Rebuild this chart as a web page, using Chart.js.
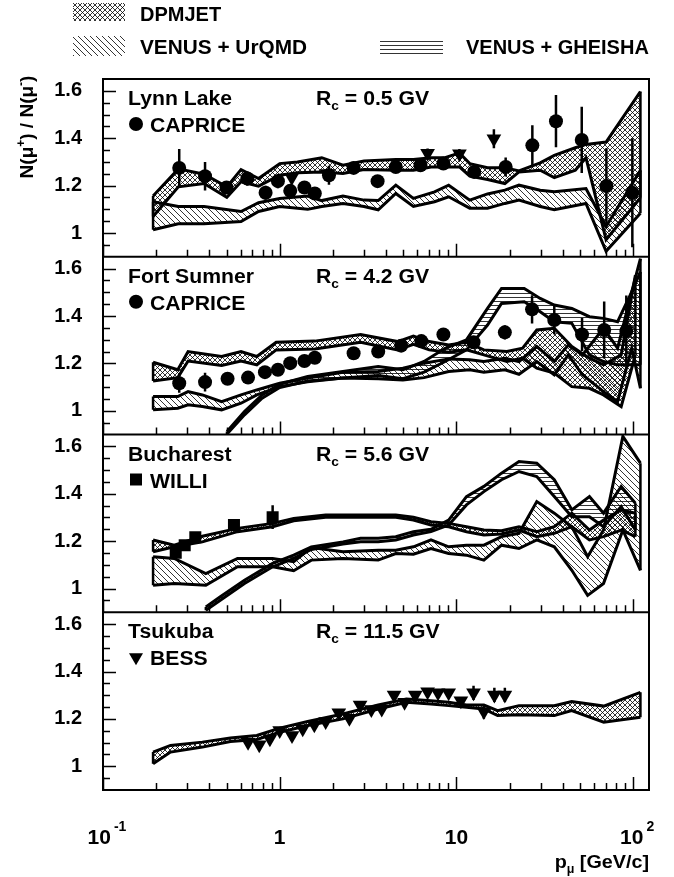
<!DOCTYPE html>
<html>
<head>
<meta charset="utf-8">
<script src="https://cdn.jsdelivr.net/npm/chart.js@4.4.1/dist/chart.umd.min.js"></script>
<style>
  html, body { margin: 0; padding: 0; background: #fff; }
  #chart { display: block; }
</style>
</head>
<body>
<canvas id="chart" width="674" height="877"></canvas>
<script>
// --- Axis ticks and labels ---
const yMajor = [1, 1.2, 1.4, 1.6];
const xTickValues = [0.1, 1, 10, 100];
const xTickBase = ['10', '1', '10', '10'];
const xTickExp = ['-1', '', '', '2'];

// --- Panels ---
const panelNames = ['Lynn Lake', 'Fort Sumner', 'Bucharest', 'Tsukuba'];
const panelCutoffs = ['0.5', '4.2', '5.6', '11.5'];
const panelExperiments = ['CAPRICE', 'CAPRICE', 'WILLI', 'BESS'];
const panelMarkers = ['circle', 'circle', 'rect', 'triangle'];

// --- Lynn Lake ---
const llCapP = [0.27, 0.378, 0.50, 0.656, 0.832, 0.977, 1.147, 1.38, 1.58, 1.90, 2.62, 3.58, 4.54, 6.26, 8.44, 12.6, 19.0, 26.9, 36.6, 51.2, 70.6, 99];
const llCapR = [1.275, 1.24, 1.192, 1.23, 1.17, 1.219, 1.178, 1.192, 1.167, 1.244, 1.275, 1.219, 1.279, 1.286, 1.293, 1.258, 1.279, 1.37, 1.472, 1.393, 1.198, 1.17];
const llCapErr = [0.08, 0.06, 0.025, 0.03, 0.03, 0.03, 0.025, 0.025, 0.025, 0.04, 0.02, 0.02, 0.02, 0.02, 0.02, 0.02, 0.04, 0.085, 0.11, 0.14, 0.16, 0.23];
const llBessP = [1.17, 1.86, 6.87, 10.4, 16.3];
const llBessR = [1.234, 1.251, 1.337, 1.335, 1.398];
const llBessErr = [0.02, 0.02, 0.02, 0.02, 0.04];
const llDpmP = [0.192, 0.267, 0.373, 0.502, 0.604, 0.759, 1.0, 1.26, 1.73, 2.28, 3.0, 4.54, 5.71, 7.19, 8.63, 10.4, 11.9, 15.0, 18.8, 22.6, 29.8, 35.8, 47.1, 54.1, 70.3, 110];
const llDpmHi = [1.156, 1.271, 1.248, 1.195, 1.268, 1.230, 1.293, 1.300, 1.318, 1.286, 1.304, 1.310, 1.310, 1.318, 1.318, 1.338, 1.293, 1.276, 1.276, 1.262, 1.296, 1.328, 1.360, 1.374, 1.384, 1.597];
const llDpmLo = [1.070, 1.195, 1.209, 1.151, 1.216, 1.198, 1.244, 1.254, 1.258, 1.251, 1.268, 1.265, 1.265, 1.279, 1.279, 1.279, 1.240, 1.226, 1.209, 1.258, 1.265, 1.234, 1.265, 1.318, 0.972, 1.149];
const llUrqP = [0.192, 0.267, 0.373, 0.604, 0.759, 1.0, 1.44, 1.73, 2.28, 3.0, 3.61, 4.54, 5.71, 7.52, 9.04, 11.9, 15.0, 18.8, 22.6, 29.8, 35.8, 54.1, 70.3, 110];
const llUrqHi = [1.132, 1.112, 1.112, 1.091, 1.128, 1.146, 1.156, 1.137, 1.156, 1.139, 1.137, 1.202, 1.146, 1.174, 1.202, 1.139, 1.165, 1.181, 1.202, 1.181, 1.174, 1.188, 1.028, 1.265];
const llUrqLo = [1.014, 1.039, 1.039, 1.049, 1.091, 1.112, 1.100, 1.112, 1.125, 1.112, 1.098, 1.167, 1.112, 1.132, 1.153, 1.105, 1.105, 1.125, 1.139, 1.112, 1.098, 1.125, 0.923, 1.084];

// --- Fort Sumner ---
const fsCapP = [0.27, 0.378, 0.507, 0.662, 0.825, 0.977, 1.147, 1.38, 1.58, 2.62, 3.61, 4.87, 6.33, 8.44, 12.5, 18.8, 26.8, 35.8, 51.4, 68.6, 91.5];
const fsCapR = [1.116, 1.121, 1.135, 1.14, 1.163, 1.173, 1.201, 1.21, 1.224, 1.243, 1.25, 1.275, 1.294, 1.322, 1.289, 1.331, 1.428, 1.383, 1.322, 1.341, 1.337];
const fsCapErr = [0.04, 0.04, 0.02, 0.02, 0.02, 0.02, 0.02, 0.02, 0.02, 0.02, 0.02, 0.02, 0.02, 0.02, 0.025, 0.03, 0.06, 0.06, 0.07, 0.12, 0.15];
const fsDpmP = [0.192, 0.265, 0.303, 0.469, 0.604, 0.742, 0.955, 1.58, 2.87, 4.65, 5.71, 7.02, 9.04, 11.4, 14.3, 19.3, 23.7, 28.5, 35.8, 45.0, 56.6, 68.0, 85.6, 103];
const fsDpmHi = [1.205, 1.173, 1.250, 1.229, 1.250, 1.229, 1.289, 1.294, 1.322, 1.292, 1.315, 1.292, 1.278, 1.289, 1.257, 1.250, 1.264, 1.341, 1.348, 1.271, 1.222, 1.194, 1.236, 1.572];
const fsDpmLo = [1.126, 1.140, 1.210, 1.191, 1.210, 1.194, 1.257, 1.261, 1.289, 1.257, 1.280, 1.257, 1.247, 1.257, 1.236, 1.208, 1.222, 1.180, 1.159, 1.102, 1.095, 1.067, 1.018, 1.236];
const fsUrqP = [0.192, 0.265, 0.303, 0.365, 0.469, 0.604, 0.742, 1.0, 1.44, 2.28, 3.61, 4.98, 6.56, 9.04, 11.9, 14.3, 18.8, 22.6, 28.5, 35.8, 43.0, 51.7, 68.0, 81.7, 98.2, 110];
const fsUrqHi = [1.060, 1.060, 1.081, 1.067, 1.039, 1.067, 1.088, 1.116, 1.138, 1.163, 1.166, 1.180, 1.201, 1.219, 1.215, 1.208, 1.222, 1.208, 1.271, 1.208, 1.278, 1.236, 1.348, 1.264, 1.502, 1.586];
const fsUrqLo = [1.004, 1.011, 1.025, 1.018, 1.004, 1.032, 1.067, 1.102, 1.123, 1.138, 1.135, 1.130, 1.140, 1.166, 1.173, 1.163, 1.173, 1.154, 1.208, 1.152, 1.236, 1.152, 1.081, 1.039, 1.264, 1.095];
const fsGhP = [0.503, 0.632, 0.795, 1.0, 1.44, 2.28, 3.61, 4.98, 6.56, 8.63, 11.4, 15.0, 18.0, 24.2, 29.8, 35.8, 45.0, 56.6, 68.0, 81.7, 98.2, 110];
const fsGhHi = [0.913, 0.997, 1.067, 1.112, 1.145, 1.166, 1.187, 1.173, 1.208, 1.264, 1.299, 1.432, 1.516, 1.516, 1.474, 1.446, 1.432, 1.397, 1.390, 1.376, 1.502, 1.642];
const fsGhLo = [0.902, 0.983, 1.053, 1.098, 1.126, 1.138, 1.149, 1.135, 1.163, 1.208, 1.257, 1.362, 1.453, 1.460, 1.418, 1.376, 1.369, 1.236, 1.208, 1.194, 1.194, 1.194];

// --- Bucharest ---
const buWilP = [0.258, 0.29, 0.333, 0.551, 0.912];
const buWilR = [1.151, 1.183, 1.216, 1.268, 1.301];
const buWilErr = [0.01, 0.01, 0.01, 0.01, 0.05];
const buDpmP = [0.192, 0.253, 0.365, 0.577, 0.912, 1.20, 1.82, 2.87, 4.54, 5.71, 7.18, 9.04, 11.4, 14.3, 18.0, 22.6, 28.5, 35.8, 45.0, 56.6, 68.0, 85.6, 103];
const buDpmHi = [1.205, 1.183, 1.221, 1.254, 1.275, 1.296, 1.310, 1.310, 1.310, 1.301, 1.282, 1.275, 1.261, 1.247, 1.244, 1.261, 1.240, 1.261, 1.318, 1.247, 1.289, 1.332, 1.318];
const buDpmLo = [1.155, 1.176, 1.197, 1.240, 1.261, 1.286, 1.301, 1.301, 1.301, 1.289, 1.268, 1.261, 1.240, 1.226, 1.230, 1.247, 1.219, 1.233, 1.261, 1.205, 1.219, 1.247, 1.219];
const buGhP = [0.382, 0.459, 0.632, 0.912, 1.20, 1.51, 2.28, 2.87, 3.61, 4.54, 5.71, 7.18, 9.04, 11.4, 14.3, 18.0, 22.6, 28.5, 35.8, 45.0, 56.6, 68.0, 85.6, 103];
const buGhHi = [0.922, 0.964, 1.035, 1.106, 1.141, 1.176, 1.197, 1.212, 1.212, 1.219, 1.240, 1.250, 1.289, 1.388, 1.431, 1.487, 1.536, 1.529, 1.459, 1.332, 1.388, 1.318, 1.431, 1.360];
const buGhLo = [0.908, 0.950, 1.021, 1.092, 1.127, 1.165, 1.188, 1.197, 1.197, 1.205, 1.226, 1.240, 1.268, 1.353, 1.409, 1.459, 1.494, 1.473, 1.388, 1.303, 1.303, 1.261, 1.346, 1.247];
const buUrqP = [0.192, 0.253, 0.382, 0.577, 0.912, 1.20, 1.51, 2.28, 3.61, 4.54, 5.71, 7.18, 9.04, 11.4, 14.3, 18.0, 22.6, 28.5, 35.8, 45.0, 55.3, 68.0, 87.5, 110];
const buUrqHi = [1.134, 1.127, 1.063, 1.127, 1.127, 1.113, 1.173, 1.155, 1.162, 1.162, 1.176, 1.205, 1.176, 1.183, 1.183, 1.219, 1.233, 1.367, 1.318, 1.261, 1.134, 1.247, 1.642, 1.529];
const buUrqLo = [1.014, 1.021, 1.014, 1.092, 1.092, 1.075, 1.120, 1.127, 1.120, 1.148, 1.145, 1.169, 1.148, 1.141, 1.120, 1.183, 1.169, 1.205, 1.176, 1.077, 0.971, 1.021, 1.247, 1.077];

// --- Tsukuba ---
const tsBessP = [0.662, 0.766, 0.88, 1.0, 1.174, 1.35, 1.57, 1.82, 2.16, 2.48, 2.85, 3.30, 3.78, 4.44, 5.09, 5.85, 6.87, 7.87, 9.04, 10.6, 12.5, 14.3, 16.4, 18.8];
const tsBessR = [1.102, 1.091, 1.116, 1.151, 1.13, 1.158, 1.175, 1.189, 1.226, 1.203, 1.259, 1.24, 1.242, 1.301, 1.27, 1.301, 1.315, 1.31, 1.31, 1.277, 1.31, 1.231, 1.301, 1.301];
const tsBessErr = [0.01, 0.01, 0.01, 0.01, 0.01, 0.01, 0.01, 0.01, 0.01, 0.01, 0.01, 0.01, 0.01, 0.01, 0.01, 0.01, 0.01, 0.01, 0.01, 0.01, 0.03, 0.03, 0.03, 0.03];
const tsDpmP = [0.192, 0.241, 0.365, 0.526, 0.742, 1.0, 1.44, 2.28, 3.61, 5.21, 7.18, 9.04, 11.4, 14.3, 17.1, 22.6, 35.8, 44.9, 68.2, 110];
const tsDpmHi = [1.060, 1.088, 1.102, 1.119, 1.130, 1.161, 1.189, 1.221, 1.259, 1.284, 1.277, 1.270, 1.259, 1.259, 1.235, 1.256, 1.256, 1.273, 1.254, 1.312];
const tsDpmLo = [1.011, 1.060, 1.081, 1.105, 1.113, 1.144, 1.172, 1.200, 1.242, 1.270, 1.263, 1.256, 1.249, 1.242, 1.214, 1.217, 1.214, 1.235, 1.186, 1.207];

const FONT = '"Liberation Sans", Arial, Helvetica, sans-serif';

// --- Hatch patterns ---
function makePattern(ctx, kind) {
    const s = kind === 'h' ? 4 : kind === 'cross' ? 5 : 6;
    const c = document.createElement('canvas');
    c.width = s; c.height = s;
    const g = c.getContext('2d');
    g.strokeStyle = '#000';
    g.lineWidth = 0.8;
    g.beginPath();
    if (kind === 'h') { g.moveTo(0, 1.5); g.lineTo(s, 1.5); }
    if (kind === 'back' || kind === 'cross') {
        g.moveTo(0, 0); g.lineTo(s, s);
        g.moveTo(-1, s - 1); g.lineTo(1, s + 1);
        g.moveTo(s - 1, -1); g.lineTo(s + 1, 1);
    }
    if (kind === 'cross') {
        g.moveTo(s, 0); g.lineTo(0, s);
        g.moveTo(-1, 1); g.lineTo(1, -1);
        g.moveTo(s - 1, s + 1); g.lineTo(s + 1, s - 1);
    }
    g.stroke();
    return ctx.createPattern(c, 'repeat');
}

const ctx = document.getElementById('chart').getContext('2d');
const pat = { dpm: makePattern(ctx, 'cross'), urq: makePattern(ctx, 'back'), gh: makePattern(ctx, 'h') };

// --- Datasets ---
const datasets = [];
function addPoints(axis, p, r, err, style) {
    datasets.push({
        yAxisID: axis,
        data: p.map((v, i) => ({ x: v, y: r[i] })),
        errors: err,
        showLine: false,
        pointStyle: style,
        pointRotation: style === 'triangle' ? 180 : 0,
        pointRadius: style === 'rect' ? 8.5 : style === 'triangle' ? 8.5 : 7,
        pointBackgroundColor: '#000',
        pointBorderWidth: 0,
        order: 0
    });
}
function addBand(axis, p, hi, lo, pattern) {
    const line = { yAxisID: axis, borderColor: '#000', borderWidth: 3, pointRadius: 0, tension: 0, order: 1 };
    datasets.push({ ...line, data: p.map((v, i) => ({ x: v, y: hi[i] })), fill: '+1', backgroundColor: pattern, band: true });
    datasets.push({ ...line, data: p.map((v, i) => ({ x: v, y: lo[i] })), fill: false });
}

addPoints('y0', llCapP, llCapR, llCapErr, 'circle');
addPoints('y0', llBessP, llBessR, llBessErr, 'triangle');
addBand('y0', llDpmP, llDpmHi, llDpmLo, pat.dpm);
addBand('y0', llUrqP, llUrqHi, llUrqLo, pat.urq);

addPoints('y1', fsCapP, fsCapR, fsCapErr, 'circle');
addBand('y1', fsDpmP, fsDpmHi, fsDpmLo, pat.dpm);
addBand('y1', fsUrqP, fsUrqHi, fsUrqLo, pat.urq);
addBand('y1', fsGhP, fsGhHi, fsGhLo, pat.gh);

addPoints('y2', buWilP, buWilR, buWilErr, 'rect');
addBand('y2', buDpmP, buDpmHi, buDpmLo, pat.dpm);
addBand('y2', buGhP, buGhHi, buGhLo, pat.gh);
addBand('y2', buUrqP, buUrqHi, buUrqLo, pat.urq);

addPoints('y3', tsBessP, tsBessR, tsBessErr, 'triangle');
addBand('y3', tsDpmP, tsDpmHi, tsDpmLo, pat.dpm);

// --- Text helper (plain / sup / sub runs, optional horizontal stretch) ---
function richText(c, parts, x, y, size, align, sx = 1, supRaise = 0.62, supGap = 3) {
    const font = m => `bold ${m ? Math.round(size * 0.65) : size}px ${FONT}`;
    let w = 0;
    parts.forEach(([t, m]) => { c.font = font(m); w += c.measureText(t).width + (m === 'sup' ? supGap : 0); });
    w *= sx;
    const x0 = align === 'right' ? x - w : align === 'center' ? x - w / 2 : x;
    c.save();
    c.translate(x0, y);
    c.scale(sx, 1);
    c.fillStyle = '#000';
    c.textAlign = 'left';
    c.textBaseline = 'alphabetic';
    let px = 0;
    parts.forEach(([t, m]) => {
        c.font = font(m);
        if (m === 'sup') px += supGap;
        const dy = m === 'sup' ? -size * supRaise : m === 'sub' ? size * 0.25 : 0;
        c.fillText(t, px, dy);
        px += c.measureText(t).width;
    });
    c.restore();
}

function drawMarker(c, style, x, y) {
    c.beginPath();
    if (style === 'circle') c.arc(x, y, 7, 0, Math.PI * 2);
    if (style === 'rect') c.rect(x - 6, y - 6, 12, 12);
    if (style === 'triangle') { c.moveTo(x - 7, y - 4); c.lineTo(x + 7, y - 4); c.lineTo(x, y + 8); c.closePath(); }
    c.fill();
}

const panelAxes = ['y0', 'y1', 'y2', 'y3'];

const decor = {
    id: 'decor',
    afterDatasetsDraw(chart) {
        const { ctx: c, chartArea: a, scales } = chart;
        c.save();
        c.strokeStyle = '#000';
        // error bars and band end caps, clipped to their panel
        chart.data.datasets.forEach((ds, i) => {
            const meta = chart.getDatasetMeta(i);
            const ys = scales[ds.yAxisID];
            c.save();
            c.beginPath();
            c.rect(a.left, ys.top, a.width, ys.bottom - ys.top);
            c.clip();
            c.lineWidth = 2.5;
            if (ds.errors) {
                ds.data.forEach((d, j) => {
                    const px = meta.data[j].x;
                    c.beginPath();
                    c.moveTo(px, ys.getPixelForValue(d.y - ds.errors[j]));
                    c.lineTo(px, ys.getPixelForValue(d.y + ds.errors[j]));
                    c.stroke();
                });
            }
            if (ds.band) {
                const lo = chart.getDatasetMeta(i + 1).data;
                [0, meta.data.length - 1].forEach(j => {
                    c.beginPath();
                    c.moveTo(meta.data[j].x, meta.data[j].y);
                    c.lineTo(lo[j].x, lo[j].y);
                    c.stroke();
                });
            }
            c.restore();
        });

        // frame and panel separators
        c.lineWidth = 2;
        c.strokeRect(a.left, a.top, a.width, a.height);
        const x = scales.x;
        panelAxes.forEach(id => {
            const ys = scales[id];
            c.beginPath();
            c.moveTo(a.left, ys.bottom);
            c.lineTo(a.right, ys.bottom);
            c.stroke();
        });

        // inward ticks
        c.lineWidth = 1.5;
        panelAxes.forEach(id => {
            const ys = scales[id];
            c.beginPath();
            for (let k = 19; k <= 32; k++) {
                const v = k * 0.05;
                const major = yMajor.some(m => Math.abs(m - v) < 1e-6);
                const py = Math.round(ys.getPixelForValue(v)) + 0.5;
                c.moveTo(a.left, py);
                c.lineTo(a.left + (major ? 13 : 7), py);
            }
            for (let d = -1; d <= 2; d++) {
                for (let k = 1; k <= 9; k++) {
                    const v = k * Math.pow(10, d);
                    if (v > x.max) continue;
                    const px = Math.round(x.getPixelForValue(v)) + 0.5;
                    c.moveTo(px, ys.bottom);
                    c.lineTo(px, ys.bottom - (k === 1 ? 13 : 7));
                }
            }
            c.stroke();
        });
        c.restore();
    },
    afterDraw(chart) {
        const { ctx: c, chartArea: a, scales } = chart;
        c.save();

        // legend
        c.fillStyle = pat.dpm; c.fillRect(73, 3, 52, 18);
        c.fillStyle = pat.urq; c.fillRect(73, 36, 52, 20);
        c.fillStyle = pat.gh; c.fillRect(380, 40, 63, 16);
        richText(c, [['DPMJET', '']], 140, 21, 20);
        richText(c, [['VENUS + UrQMD', '']], 140, 54, 20, 'left', 1.04);
        richText(c, [['VENUS + GHEISHA', '']], 466, 54, 20);

        // panel captions
        panelAxes.forEach((id, i) => {
            const T = scales[id].top;
            richText(c, [[panelNames[i], '']], 128, T + 26, 20, 'left', 1.06);
            c.fillStyle = '#000';
            drawMarker(c, panelMarkers[i], 136, T + 45);
            richText(c, [[panelExperiments[i], '']], 150, T + 53, 20, 'left', 1.06);
            richText(c, [['R', ''], ['c', 'sub'], [' = ' + panelCutoffs[i] + ' GV', '']], 316, T + 26, 20, 'left', 1.06);
        });

        // y title
        c.save();
        c.translate(33, 127);
        c.rotate(-Math.PI / 2);
        richText(c, [['N(\u03bc', ''], ['+', 'sup'], [') / N(\u03bc', ''], ['-', 'sup'], [')', '']], 0, 0, 19, 'center', 1, 0.42, 0);
        c.restore();

        // x tick labels
        xTickValues.forEach((v, i) => {
            const px = scales.x.getPixelForValue(v);
            const parts = [[xTickBase[i], '']];
            if (xTickExp[i]) parts.push([xTickExp[i], 'sup']);
            richText(c, parts, px + (xTickExp[i] ? 4 : 0), 844, 21, 'center');
        });

        // x title
        richText(c, [['p', ''], ['\u03bc', 'sub'], [' [GeV/c]', '']], a.right, 868, 19, 'right', 1.04);
        c.restore();
    }
};

function panelAxis(weight) {
    return {
        type: 'linear',
        position: 'left',
        stack: 'panels',
        stackWeight: 1,
        weight: weight,
        min: 0.9,
        max: 1.65,
        grid: { display: false, drawTicks: false },
        border: { display: false },
        afterBuildTicks: s => { s.ticks = yMajor.map(v => ({ value: v })); },
        afterFit: s => { s.width = 103; },
        ticks: {
            padding: 21,
            color: '#000',
            font: { family: FONT, size: 20, weight: 'bold' },
            callback: v => String(v)
        }
    };
}

new Chart(ctx, {
    type: 'line',
    data: { datasets },
    options: {
        responsive: false,
        animation: false,
        devicePixelRatio: 1,
        events: [],
        layout: { padding: { top: 79, right: 25, bottom: 0, left: 0 } },
        plugins: { legend: { display: false }, tooltip: { enabled: false } },
        scales: {
            x: {
                type: 'logarithmic',
                position: 'bottom',
                min: 0.1,
                max: 123,
                grid: { display: false, drawTicks: false },
                border: { display: false },
                ticks: { display: false },
                afterBuildTicks: s => { s.ticks = xTickValues.map(v => ({ value: v })); },
                afterFit: s => { s.height = 87; }
            },
            y0: panelAxis(4),
            y1: panelAxis(3),
            y2: panelAxis(2),
            y3: panelAxis(1)
        }
    },
    plugins: [decor]
});
</script>
</body>
</html>
